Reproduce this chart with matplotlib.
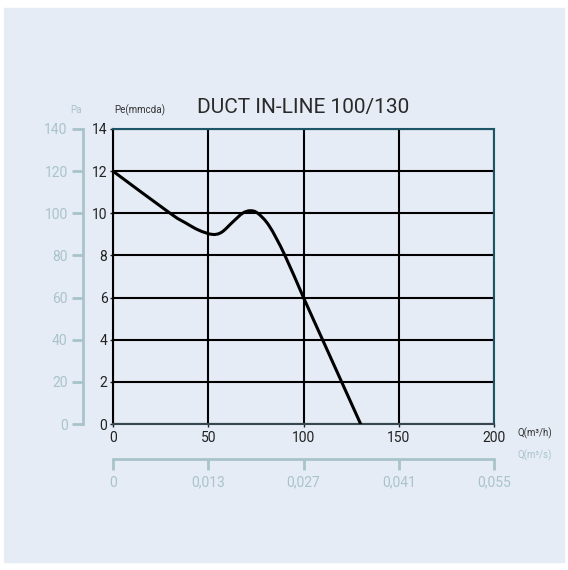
import matplotlib
matplotlib.use("Agg")
import matplotlib.pyplot as plt
from matplotlib.patches import Rectangle, PathPatch
from matplotlib.path import Path

plt.rcParams['font.family'] = ['Roboto', 'DejaVu Sans']

# fan curve, flow in m3/h vs static pressure in mm H2O
flow = [0, 30, 38, 45, 52, 57, 63, 68, 72, 76, 82, 90, 100, 110, 120, 130]
pressure = [12, 10.0, 9.55, 9.2, 9.0, 9.1, 9.6, 10.0, 10.12, 10.0, 9.4, 8.05,
            6.0, 4.0, 2.0, 0]

q_h_ticks = [0, 50, 100, 150, 200]
q_s_labels = ['0', '0,013', '0,027', '0,041', '0,055']
pe_ticks = [0, 2, 4, 6, 8, 10, 12, 14]
pa_ticks = [0, 20, 40, 60, 80, 100, 120, 140]

W, H = 568, 570
bg = '#e6ecf6'
pale = '#a9c3cb'
ink = '#222222'


def smooth_path(xs, ys):
    # Catmull-Rom through the points, written as cubic Bezier segments
    pts = list(zip(xs, ys))
    verts = [pts[0]]
    codes = [Path.MOVETO]
    for i in range(len(pts) - 1):
        p0 = pts[i - 1] if i > 0 else pts[i]
        p1, p2 = pts[i], pts[i + 1]
        p3 = pts[i + 2] if i + 2 < len(pts) else p2
        c1 = (p1[0] + (p2[0] - p0[0]) / 6, p1[1] + (p2[1] - p0[1]) / 6)
        c2 = (p2[0] - (p3[0] - p1[0]) / 6, p2[1] - (p3[1] - p1[1]) / 6)
        verts += [c1, c2, p2]
        codes += [Path.CURVE4] * 3
    return Path(verts, codes)


fig = plt.figure(figsize=(W / 100, H / 100), dpi=100)
fig.patch.set_facecolor('white')
panel = Rectangle((4 / W, 1 - 562 / H), 560 / W, 554 / H,
                  transform=fig.transFigure, color=bg, zorder=-10)
fig.add_artist(panel)

x0, x1, y_top, y_bot = 113, 494, 129, 424
ax = fig.add_axes([x0 / W, 1 - y_bot / H, (x1 - x0) / W, (y_bot - y_top) / H])
ax.set_facecolor(bg)
ax.set_xlim(0, 200)
ax.set_ylim(0, 14)
ax.set_xticks(q_h_ticks)
ax.set_yticks(pe_ticks)
ax.grid(True, color='black', linewidth=1.5)
ax.set_axisbelow(True)
ax.add_patch(PathPatch(smooth_path(flow, pressure), facecolor='none',
                       edgecolor='black', linewidth=2.2, capstyle='round',
                       joinstyle='round', zorder=3))

ax.spines['left'].set_color('black')
ax.spines['bottom'].set_color('#37474f')
ax.spines['top'].set_color('#1b5566')
ax.spines['right'].set_color('#1b5566')
for s in ax.spines.values():
    s.set_linewidth(1.5)
ax.tick_params(axis='both', length=2, width=1, labelsize=10, colors=ink, pad=2)
ax.tick_params(axis='x', pad=3)

ax.set_title('DUCT IN-LINE 100/130', fontsize=15, color='#2a2a2a', pad=11.5)
fig.text(114 / W, 1 - 113 / H, 'Pe(mmcda)', fontsize=7, color='#333333',
         ha='left', va='baseline')
fig.text(517 / W, 1 - 433 / H, 'Q(m³/h)', fontsize=7, color='#333333',
         ha='left', va='center')
fig.text(517 / W, 1 - 455 / H, 'Q(m³/s)', fontsize=7, color=pale,
         ha='left', va='center')
fig.text(76 / W, 1 - 113 / H, 'Pa', fontsize=7, color=pale,
         ha='center', va='baseline')

# secondary pressure scale in Pa
ax_pa = fig.add_axes([83 / W, 1 - y_bot / H, 1 / W, (y_bot - y_top) / H])
ax_pa.set_ylim(0, 140)
ax_pa.set_yticks(pa_ticks)
ax_pa.set_xticks([])
ax_pa.patch.set_visible(False)
for side in ['top', 'right', 'bottom']:
    ax_pa.spines[side].set_visible(False)
ax_pa.spines['left'].set_color(pale)
ax_pa.spines['left'].set_linewidth(2)
ax_pa.tick_params(axis='y', length=8, width=2, colors=pale, labelsize=10, pad=3)

# secondary flow scale in m3/s
ax_q = fig.add_axes([x0 / W, 1 - 459 / H, (x1 - x0) / W, 1 / H])
ax_q.set_xlim(0, 200)
ax_q.set_xticks(q_h_ticks)
ax_q.set_xticklabels(q_s_labels)
ax_q.set_yticks([])
ax_q.patch.set_visible(False)
for side in ['top', 'right', 'left']:
    ax_q.spines[side].set_visible(False)
ax_q.spines['bottom'].set_color(pale)
ax_q.spines['bottom'].set_linewidth(2)
ax_q.tick_params(axis='x', length=8, width=2, colors=pale, labelsize=10, pad=4)

fig.savefig('out.png', dpi=100, facecolor='white')
